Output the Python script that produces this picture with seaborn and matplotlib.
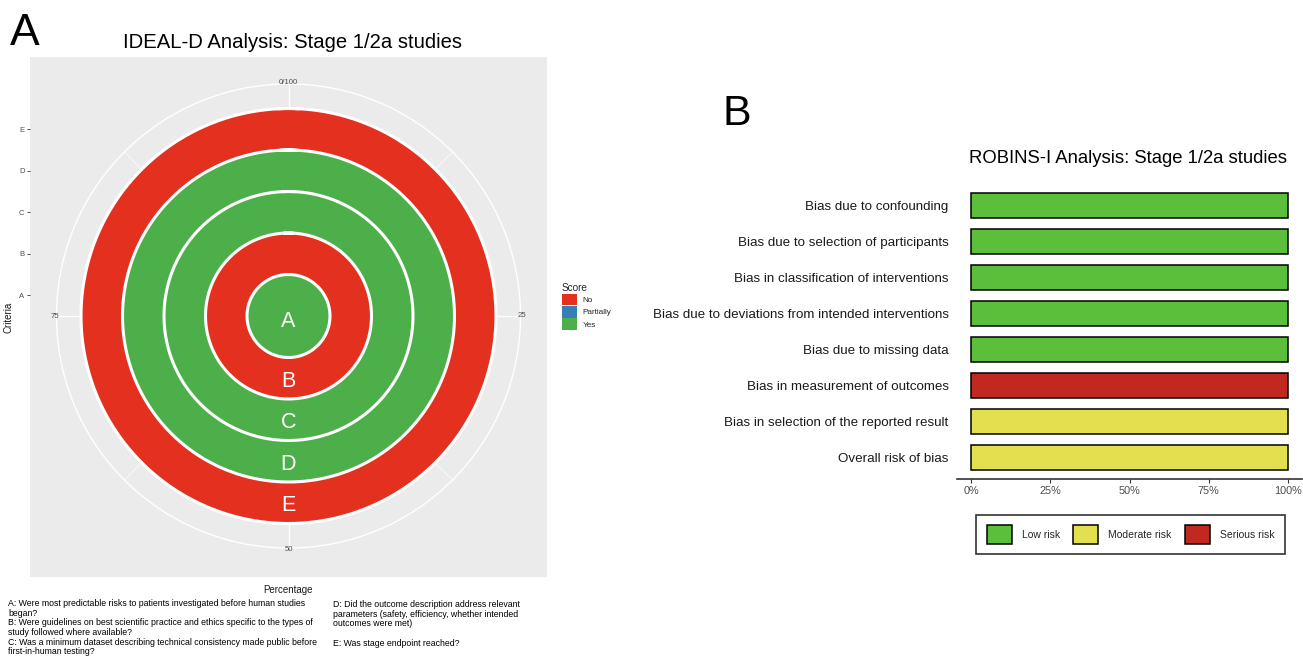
import numpy as np
import pandas as pd
import matplotlib
matplotlib.use("Agg")
import matplotlib.pyplot as plt
from matplotlib.patches import Patch
import seaborn as sns

# ---- Panel A: IDEAL-D criteria (each criterion scored as one category) ----
ideal_criteria = ["A", "B", "C", "D", "E"]
ideal_scores = ["Yes", "No", "Yes", "Yes", "No"]
ideal_percent = [100, 100, 100, 100, 100]
score_levels = ["No", "Partially", "Yes"]
score_colors = ["#E4301F", "#377EB8", "#4DAF4A"]
theta_breaks = [0, 25, 50, 75]
theta_labels = ["0/100", "25", "50", "75"]
theta_minor = [12.5, 37.5, 62.5, 87.5]

questions_left = (
    "A: Were most predictable risks to patients investigated before human studies\n"
    "began?\n"
    "B: Were guidelines on best scientific practice and ethics specific to the types of\n"
    "study followed where available?\n"
    "C: Was a minimum dataset describing technical consistency made public before\n"
    "first-in-human testing?"
)
questions_right = (
    "D: Did the outcome description address relevant\n"
    "parameters (safety, efficiency, whether intended\n"
    "outcomes were met)"
)
question_e = "E: Was stage endpoint reached?"

# ---- Panel B: ROBINS-I domains ----
robins_domains = [
    "Bias due to confounding",
    "Bias due to selection of participants",
    "Bias in classification of interventions",
    "Bias due to deviations from intended interventions",
    "Bias due to missing data",
    "Bias in measurement of outcomes",
    "Bias in selection of the reported result",
    "Overall risk of bias",
]
robins_judgement = ["Low risk", "Low risk", "Low risk", "Low risk", "Low risk",
                    "Serious risk", "Moderate risk", "Moderate risk"]
robins_percent = [100, 100, 100, 100, 100, 100, 100, 100]
risk_levels = ["Low risk", "Moderate risk", "Serious risk"]
risk_colors = ["#5BBF3C", "#E3E04F", "#C1281F"]
percent_ticks = [0, 25, 50, 75, 100]
percent_labels = ["0%", "25%", "50%", "75%", "100%"]

sns.set_theme(style="white")
plt.rcParams["font.family"] = ["Liberation Sans", "DejaVu Sans"]

W, H = 1303, 657
fig = plt.figure(figsize=(W / 100, H / 100), dpi=100)


def box(x0, y0, x1, y1):
    """Pixel box (origin top-left) -> figure-fraction rectangle."""
    return [x0 / W, 1 - y1 / H, (x1 - x0) / W, (y1 - y0) / H]


# ---------------- Panel A ----------------
cx, cy = 288.5, 316.0      # centre of the polar plot (px)
ring_px = 41.5             # radial size of one criterion ring (px)
outer_px = 232.0           # radius of the outer grid circle (px)
grey_txt = "#4D4D4D"

bg = fig.add_axes(box(30, 57, 547, 577))
bg.set_facecolor("#EBEBEB")
bg.set_xlim((30 - cx) / ring_px, (547 - cx) / ring_px)
bg.set_ylim(-(577 - cy) / ring_px, (cy - 57) / ring_px)
for s in bg.spines.values():
    s.set_visible(False)
bg.set_xticks([])
bg.set_yticks(np.arange(len(ideal_criteria)) + 0.5)
bg.set_yticklabels(ideal_criteria, fontsize=5.5, color=grey_txt)
bg.tick_params(axis="y", left=True, length=2.5, width=0.6, color="#333333", pad=1.5)
bg.set_ylabel("Criteria", fontsize=7, color="#1A1A1A", labelpad=4)
bg.set_xlabel("Percentage", fontsize=7, color="#1A1A1A", labelpad=6)

pax = fig.add_axes(box(cx - outer_px, cy - outer_px, cx + outer_px, cy + outer_px),
                   projection="polar")
pax.patch.set_alpha(0)
pax.set_theta_zero_location("N")
pax.set_theta_direction(-1)

ideal_df = pd.DataFrame({"Criteria": ideal_criteria, "Score": ideal_scores,
                         "Percentage": ideal_percent})
ideal_df["theta"] = ideal_df["Percentage"] / 100 * 2 * np.pi
sns.barplot(data=ideal_df, x="theta", y="Criteria", hue="Score", hue_order=score_levels,
            palette=dict(zip(score_levels, score_colors)), orient="h", dodge=False,
            width=1.0, linewidth=0, saturation=1, legend=False, ax=pax)
# close the hairline seam where each ring meets itself at 12 o'clock
for p in pax.patches:
    p.set_edgecolor(p.get_facecolor())
    p.set_linewidth(0.8)

r_min = -0.5
r_max = r_min + outer_px / ring_px
pax.set_xlim(0, 2 * np.pi)
pax.set_ylim(r_min, r_max)
pax.set_xlabel("")
pax.set_ylabel("")
pax.set_axisbelow(True)
pax.set_xticks(np.array(theta_breaks) / 100 * 2 * np.pi)
pax.set_xticks(np.array(theta_minor) / 100 * 2 * np.pi, minor=True)
pax.set_xticklabels([])
pax.set_yticks(np.arange(len(ideal_criteria)))
pax.set_yticklabels([])
pax.tick_params(length=0, which="both")
pax.grid(True, which="major", color="white", lw=1.0)
pax.xaxis.grid(True, which="minor", color="white", lw=0.5)
pax.spines["polar"].set_color("white")
pax.spines["polar"].set_linewidth(1.0)

# white outlines between rings (overlapping ends so the joint is seamless)
theta_full = np.linspace(-0.05, 2 * np.pi + 0.05, 760)
for i in range(len(ideal_criteria)):
    pax.plot(theta_full, np.full_like(theta_full, i + 0.5), color="white", lw=2.2,
             solid_capstyle="round", zorder=3)

for t, lab in zip(theta_breaks, theta_labels):
    pax.text(t / 100 * 2 * np.pi, r_max + 0.04, lab, ha="center", va="center",
             fontsize=5.6, color=grey_txt, clip_on=False, zorder=5)

for i, lab in enumerate(ideal_criteria):
    r = r_min + 0.14 if i == 0 else i + 0.07
    pax.text(np.pi, r, lab, ha="center", va="center", color="white",
             fontsize=15.5, zorder=6)

score_handles = [Patch(facecolor=c, edgecolor="none") for c in score_colors]
fig.legend(score_handles, score_levels, title="Score", loc="upper left",
           bbox_to_anchor=(562 / W, 1 - 283 / H), frameon=False, fontsize=5.9,
           title_fontsize=7.2, handlelength=1.8, handleheight=1.8, labelspacing=0.08,
           handletextpad=0.7, borderpad=0, borderaxespad=0, alignment="left")

fig.text(10 / W, 1 - 45 / H, "A", fontsize=32, color="black", va="baseline")
fig.text(292.5 / W, 1 - 47.5 / H, "IDEAL-D Analysis: Stage 1/2a studies",
         fontsize=14.6, color="black", ha="center", va="baseline")
fig.text(8 / W, 1 - 599 / H, questions_left, fontsize=6.3, va="top",
         linespacing=1.1, color="black")
fig.text(333 / W, 1 - 600 / H, questions_right, fontsize=6.3, va="top",
         linespacing=1.1, color="black")
fig.text(333 / W, 1 - 643 / H, question_e, fontsize=6.3, va="center", color="black")

# ---------------- Panel B ----------------
rax = fig.add_axes(box(957, 184, 1302, 479))
robins_df = pd.DataFrame({"Domain": robins_domains, "Judgement": robins_judgement,
                          "Percentage": robins_percent})
sns.barplot(data=robins_df, x="Percentage", y="Domain", hue="Judgement",
            hue_order=risk_levels, palette=dict(zip(risk_levels, risk_colors)),
            orient="h", dodge=False, width=0.7, edgecolor="black", linewidth=1.1,
            saturation=1, legend=False, ax=rax)
rax.set_xlim(-4.5, 104.5)
rax.set_ylim(len(robins_domains) - 0.4, -0.6)
rax.set_xlabel("")
rax.set_ylabel("")
for side in ["top", "right", "left"]:
    rax.spines[side].set_visible(False)
rax.spines["bottom"].set_color("#333333")
rax.spines["bottom"].set_linewidth(1.2)
rax.set_xticks(percent_ticks)
rax.set_xticklabels(percent_labels, fontsize=7.8, color=grey_txt)
rax.tick_params(axis="x", bottom=True, length=3, width=0.8, color="#333333", pad=2)
rax.tick_params(axis="y", left=False, length=0, pad=6, labelsize=9.6, labelcolor="#1A1A1A")
rax.grid(False)

fig.text(722 / W, 1 - 125 / H, "B", fontsize=31, color="black", va="baseline")
fig.text(1128 / W, 1 - 163 / H, "ROBINS-I Analysis: Stage 1/2a studies",
         fontsize=13.3, color="black", ha="center", va="baseline")

risk_handles = [Patch(facecolor=c, edgecolor="black", lw=1.1) for c in risk_colors]
leg = fig.legend(risk_handles, risk_levels, ncol=3, loc="center",
                 bbox_to_anchor=(1130.5 / W, 1 - 534.5 / H), frameon=True, fancybox=False,
                 edgecolor="black", fontsize=7.5, handlelength=2.4, handleheight=2.4,
                 handletextpad=0.95, columnspacing=1.3, borderpad=1.0, borderaxespad=0)
leg.get_frame().set_linewidth(1.2)

fig.savefig("out.png", dpi=100, facecolor="white")
